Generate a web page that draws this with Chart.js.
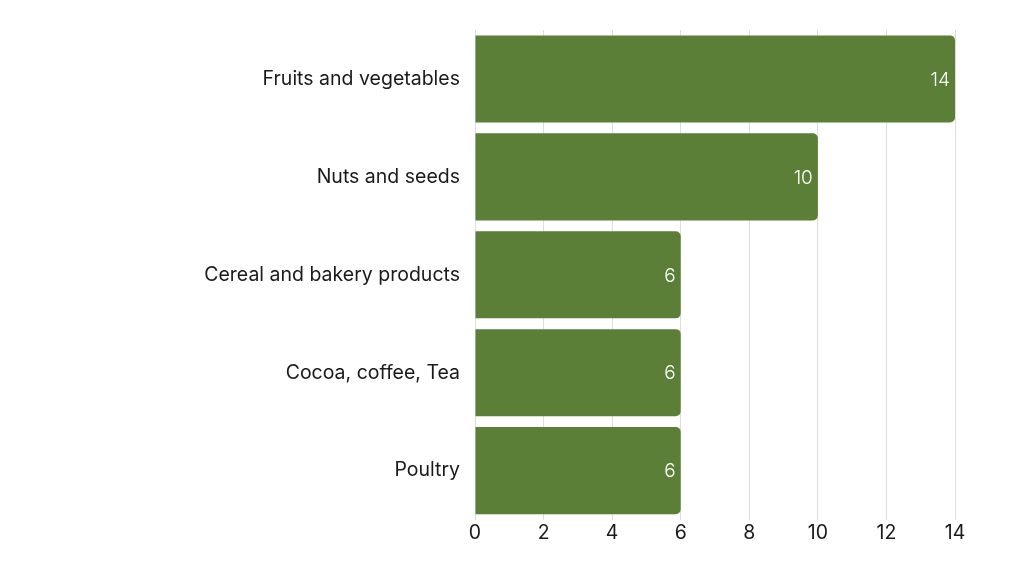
<!DOCTYPE html>
<html>
<head>
<meta charset="utf-8">
<script src="https://cdn.jsdelivr.net/npm/chart.js@4.4.1/dist/chart.umd.min.js"></script>
<style>
  html, body { margin: 0; padding: 0; background: #ffffff; }
  #wrap { width: 1024px; height: 576px; position: relative; }
</style>
</head>
<body>
<div id="wrap"><canvas id="c"></canvas></div>
<script>
// chart data
const cats = ['Fruits and vegetables', 'Nuts and seeds', 'Cereal and bakery products', 'Cocoa, coffee, Tea', 'Poultry'];
const vals = [14, 10, 6, 6, 6];
const xTicks = [0, 2, 4, 6, 8, 10, 12, 14];

const barCol = '#5c7f38';

// draws the value inside the end of each bar
const endLabels = {
  id: 'endLabels',
  afterDatasetsDraw(chart) {
    const ctx = chart.ctx;
    const meta = chart.getDatasetMeta(0);
    ctx.save();
    ctx.fillStyle = '#ffffff';
    ctx.font = '300 19px Inter';
    ctx.textAlign = 'right';
    ctx.textBaseline = 'middle';
    meta.data.forEach((bar, i) => {
      ctx.fillText(String(vals[i]), bar.x - 5, bar.y + 1);
    });
    ctx.restore();
  }
};

new Chart(document.getElementById('c'), {
  type: 'bar',
  data: {
    labels: cats,
    datasets: [{
      data: vals,
      backgroundColor: barCol,
      borderRadius: { topRight: 5, bottomRight: 5, topLeft: 0, bottomLeft: 0 },
      borderSkipped: false,
      barPercentage: 0.89,
      categoryPercentage: 1
    }]
  },
  options: {
    indexAxis: 'y',
    responsive: true,
    maintainAspectRatio: false,
    animation: false,
    layout: { padding: { top: 30, right: 69, bottom: 29, left: 0 } },
    plugins: { legend: { display: false }, tooltip: { enabled: false } },
    scales: {
      x: {
        min: 0,
        max: 14,
        afterBuildTicks: (ax) => { ax.ticks = xTicks.map(v => ({ value: v })); },
        grid: { color: '#dddddd', drawTicks: false },
        border: { display: false },
        ticks: { color: '#1a1a1a', font: { family: 'Inter', size: 19.5 }, padding: 2 }
      },
      y: {
        grid: { display: false, drawTicks: false },
        border: { display: false },
        afterFit: (ax) => { ax.width = 475; },
        ticks: { color: '#1a1a1a', font: { family: 'Inter', size: 19.5 }, padding: 15 }
      }
    }
  },
  plugins: [endLabels]
});
</script>
</body>
</html>
